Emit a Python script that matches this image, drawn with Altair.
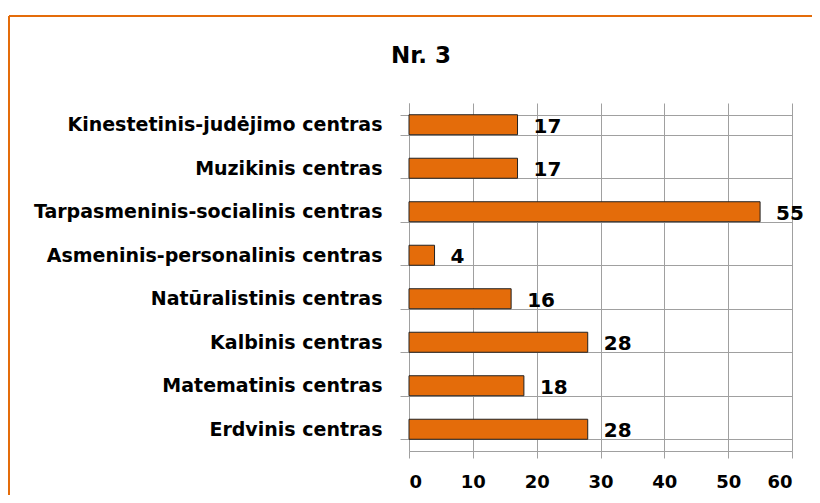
import altair as alt
import pandas as pd

categories = [
    "Kinestetinis-judėjimo centras",
    "Muzikinis centras",
    "Tarpasmeninis-socialinis  centras",
    "Asmeninis-personalinis centras",
    "Natūralistinis centras",
    "Kalbinis centras",
    "Matematinis centras",
    "Erdvinis centras",
]
values = [17, 17, 55, 4, 16, 28, 18, 28]
x_ticks = [0, 10, 20, 30, 40, 50, 60]
title_text = "Nr. 3"

df = pd.DataFrame({"cat": categories, "val": values})

FONT = "DejaVu Sans"
ORANGE = "#E46C0A"
GRID = "#a0a0a0"
W, H = 383, 348

base = alt.Chart(df)

y_enc = alt.Y(
    "cat:N",
    sort=categories,
    title=None,
    scale=alt.Scale(paddingInner=0.54, paddingOuter=0.27),
    axis=alt.Axis(
        tickBand="extent",
        grid=True,
        gridColor=GRID,
        tickColor=GRID,
        tickSize=9,
        domainColor=GRID,
        labelFont=FONT,
        labelFontSize=19,
        labelFontWeight="bold",
        labelColor="black",
        labelPadding=18,
        labelLimit=400,
    ),
)
x_enc = alt.X(
    "val:Q",
    title=None,
    scale=alt.Scale(domain=[0, 60], nice=False),
    axis=alt.Axis(
        values=x_ticks,
        grid=True,
        gridColor=GRID,
        tickColor=GRID,
        tickSize=7,
        domainColor=GRID,
        labelFont=FONT,
        labelFontSize=18,
        labelFontWeight="bold",
        labelColor="black",
        labelPadding=15,
    ),
)

bars = base.mark_bar(color=ORANGE, stroke="#222222", strokeWidth=1).encode(
    y=y_enc, x=x_enc
)

labels = base.mark_text(
    align="left", baseline="middle", dx=16, dy=2,
    font=FONT, fontSize=20, fontWeight="bold", color="black",
).encode(y=alt.Y("cat:N", sort=categories), x="val:Q", text="val:Q")

title_df = pd.DataFrame({"t": [title_text]})
title = alt.Chart(title_df).mark_text(
    align="center", baseline="middle", font=FONT, fontSize=23,
    fontWeight="bold", color="black",
).encode(x=alt.value(12), y=alt.value(-47), text="t:N")

border_top = alt.Chart(title_df).mark_rule(color=ORANGE, strokeWidth=2).encode(
    x=alt.value(-400), x2=alt.value(W + 40), y=alt.value(-87)
)
border_left = alt.Chart(title_df).mark_rule(color=ORANGE, strokeWidth=2).encode(
    x=alt.value(-400), y=alt.value(-87), y2=alt.value(H + 60)
)

chart = alt.layer(bars, labels, title, border_top, border_left).properties(
    width=W,
    height=H,
    autosize=alt.AutoSizeParams(type="none"),
    padding={"left": 401, "top": 95, "right": 20, "bottom": 44},
).configure_view(stroke=None)

chart.save("out.html", embed_options={"renderer": "svg", "actions": False})
